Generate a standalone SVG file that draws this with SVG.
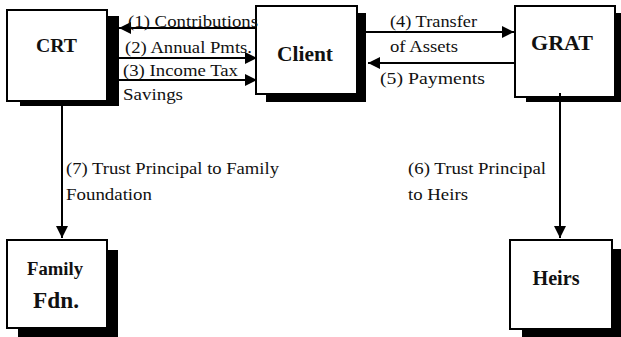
<svg xmlns="http://www.w3.org/2000/svg" width="621" height="337" viewBox="0 0 621 337">
<style>
.box{fill:#fff;stroke:#000;stroke-width:2}
.sh{fill:#000}
.nl{font-family:"Liberation Serif","Times New Roman",serif;font-weight:bold;text-anchor:middle;fill:#111}
.t{font-family:"Liberation Serif","Times New Roman",serif;font-size:16.5px;fill:#111}
.c{stroke:#000;stroke-width:2;fill:none}
</style>
<defs>
<marker id="ah" viewBox="0 0 12 12" refX="12" refY="6" markerWidth="12" markerHeight="12" markerUnits="userSpaceOnUse" orient="auto">
<path d="M0,0 L12,6 L0,12 Z" fill="#000"/>
</marker>
</defs>
<rect width="621" height="337" fill="#fff"/>
<g id="crt">
<rect class="sh" x="20" y="16" width="99" height="90"/>
<rect class="box" x="7" y="10" width="100" height="91"/>
<text class="nl" x="56.5" y="52" font-size="19" textLength="41" lengthAdjust="spacingAndGlyphs">CRT</text>
</g>
<g id="client">
<rect class="sh" x="266" y="13" width="100" height="89"/>
<rect class="box" x="256" y="6" width="101" height="88"/>
<text class="nl" x="305" y="61" font-size="22" textLength="56" lengthAdjust="spacingAndGlyphs">Client</text>
</g>
<g id="grat">
<rect class="sh" x="526" y="13" width="100" height="89"/>
<rect class="box" x="515" y="6" width="100" height="91"/>
<text class="nl" x="562" y="50" font-size="21" textLength="62" lengthAdjust="spacingAndGlyphs">GRAT</text>
</g>
<g id="family">
<rect class="sh" x="18" y="250" width="100" height="87"/>
<rect class="box" x="7" y="240" width="100" height="88"/>
<text class="nl" x="55" y="275" font-size="18" textLength="56" lengthAdjust="spacingAndGlyphs">Family</text>
<text class="nl" x="56" y="308" font-size="23" textLength="46" lengthAdjust="spacingAndGlyphs">Fdn.</text>
</g>
<g id="heirs">
<rect class="sh" x="522" y="249" width="100" height="88"/>
<rect class="box" x="510" y="240" width="102" height="89"/>
<text class="nl" x="556" y="285" font-size="20" textLength="47" lengthAdjust="spacingAndGlyphs">Heirs</text>
</g>
<g id="connectors">
<line class="c" x1="255" y1="28" x2="119" y2="28" marker-end="url(#ah)"/>
<line class="c" x1="119" y1="58" x2="257" y2="58" marker-end="url(#ah)"/>
<line class="c" x1="119" y1="80" x2="257" y2="80" marker-end="url(#ah)"/>
<line class="c" x1="366" y1="32" x2="514" y2="32" marker-end="url(#ah)"/>
<line class="c" x1="514" y1="63" x2="368" y2="63" marker-end="url(#ah)"/>
<line class="c" x1="62" y1="106" x2="62" y2="238" marker-end="url(#ah)"/>
<line class="c" x1="560" y1="93" x2="560" y2="238" marker-end="url(#ah)"/>
</g>
<g id="labels">
<text class="t" x="128" y="27" textLength="130" lengthAdjust="spacingAndGlyphs">(1) Contributions</text>
<text class="t" x="125" y="53" textLength="127" lengthAdjust="spacingAndGlyphs">(2) Annual Pmts.</text>
<text class="t" x="123" y="76" textLength="115" lengthAdjust="spacingAndGlyphs">(3) Income Tax</text>
<text class="t" x="123" y="100" textLength="60" lengthAdjust="spacingAndGlyphs">Savings</text>
<text class="t" x="390" y="27" textLength="87" lengthAdjust="spacingAndGlyphs">(4) Transfer</text>
<text class="t" x="390" y="52" textLength="68" lengthAdjust="spacingAndGlyphs">of Assets</text>
<text class="t" x="380" y="84" textLength="105" lengthAdjust="spacingAndGlyphs">(5) Payments</text>
<text class="t" x="66" y="174" textLength="213" lengthAdjust="spacingAndGlyphs">(7) Trust Principal to Family</text>
<text class="t" x="66" y="200" textLength="86" lengthAdjust="spacingAndGlyphs">Foundation</text>
<text class="t" x="408" y="174" textLength="138" lengthAdjust="spacingAndGlyphs">(6) Trust Principal</text>
<text class="t" x="408" y="200" textLength="60" lengthAdjust="spacingAndGlyphs">to Heirs</text>
</g>
</svg>
